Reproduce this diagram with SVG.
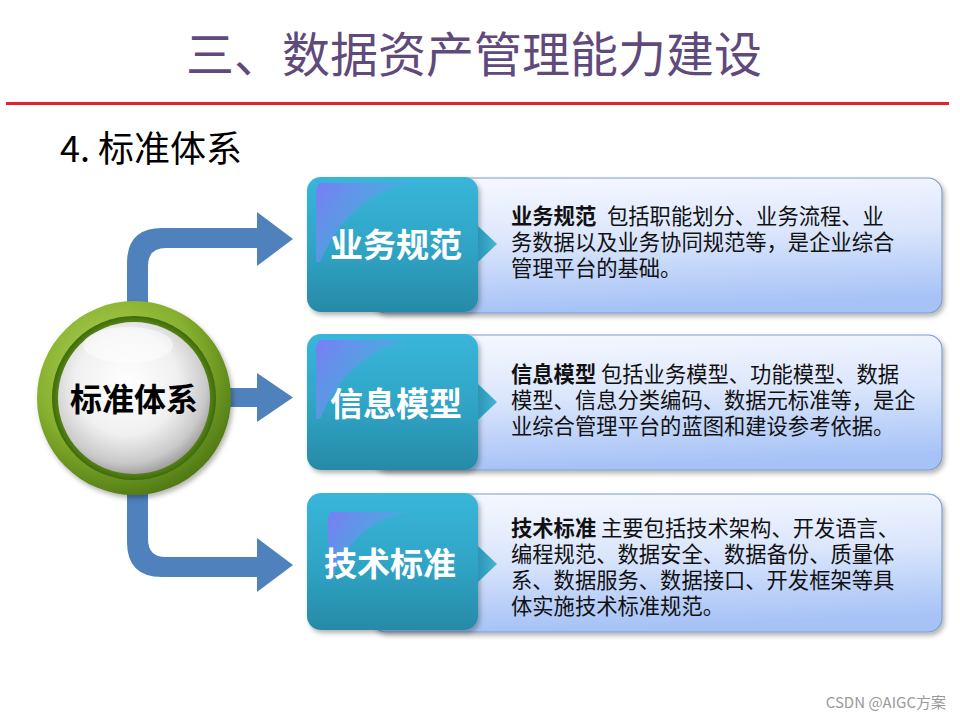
<svg xmlns="http://www.w3.org/2000/svg" width="960" height="720" viewBox="0 0 960 720">
<style>
.cjk{font-family:"Noto Sans CJK SC","Liberation Sans",sans-serif}
.desc{font-size:21.3px;fill:#111}
.b{font-weight:bold}
.lbl{font-size:33px;font-weight:bold;fill:#fff}
.lightbox{fill:url(#gLight);stroke:#7f9dcb;stroke-width:1.2}
.teal{fill:url(#gTeal)}
.swoosh{fill:url(#gSwoosh)}
.arr{fill:#4f81bd}
</style>
<defs>
<linearGradient id="gLight" x1="0" y1="0" x2="0.15" y2="1">
<stop offset="0" stop-color="#f7f9ff"/>
<stop offset="0.5" stop-color="#dbe6fc"/>
<stop offset="1" stop-color="#a7c3f6"/>
</linearGradient>
<linearGradient id="gTeal" x1="0" y1="0" x2="0" y2="1">
<stop offset="0" stop-color="#38b6da"/>
<stop offset="0.55" stop-color="#2fa3c4"/>
<stop offset="1" stop-color="#278aa6"/>
</linearGradient>
<linearGradient id="gSwoosh" x1="0" y1="0" x2="1" y2="0.6">
<stop offset="0" stop-color="#7b7cf6"/>
<stop offset="0.6" stop-color="#5b9fe6" stop-opacity="0.7"/>
<stop offset="1" stop-color="#3ab4da" stop-opacity="0"/>
</linearGradient>
<linearGradient id="gTri" x1="0" y1="0" x2="1" y2="0">
<stop offset="0" stop-color="#2b95b4"/>
<stop offset="1" stop-color="#45b7d6"/>
</linearGradient>
<radialGradient id="gRing" cx="0.4" cy="0.35" r="0.7">
<stop offset="0" stop-color="#b4d65a"/>
<stop offset="0.6" stop-color="#86b02e"/>
<stop offset="1" stop-color="#4b7412"/>
</radialGradient>
<radialGradient id="gRingIn" cx="0.5" cy="0.5" r="0.5">
<stop offset="0.85" stop-color="#6f9a1e"/>
<stop offset="1" stop-color="#3e6a0c"/>
</radialGradient>
<radialGradient id="gBall" cx="0.45" cy="0.4" r="0.62">
<stop offset="0" stop-color="#ffffff"/>
<stop offset="0.55" stop-color="#f0f0f0"/>
<stop offset="0.85" stop-color="#c9c9c9"/>
<stop offset="1" stop-color="#9a9a9a"/>
</radialGradient>
<filter id="sh" x="-10%" y="-10%" width="125%" height="130%">
<feDropShadow dx="2" dy="3" stdDeviation="2.5" flood-color="#000" flood-opacity="0.3"/>
</filter>
</defs>
<rect width="960" height="720" fill="#fff"/>
<text class="cjk" x="474" y="72" font-size="48" fill="#604a7b" text-anchor="middle">三、数据资产管理能力建设</text>
<rect x="6" y="102" width="943" height="3" fill="#e3202b"/>
<text class="cjk" x="60" y="162" font-size="36" fill="#000">4. 标准体系</text>

<g id="connectors">
<path class="arr" d="M127,310 L127,263 Q127,228 162,228 L257,228 L257,212 L293,239 L257,266 L257,248 L166,248 Q148,248 148,266 L148,310 Z"/>
<path class="arr" d="M222,388 L257,388 L257,373 L293,397.5 L257,422 L257,407 L222,407 Z"/>
<path class="arr" d="M127,488 L127,542 Q127,577 162,577 L257,577 L257,592 L293,565 L257,538 L257,557 L166,557 Q148,557 148,539 L148,488 Z"/>
</g>

<g id="center">
<circle cx="134" cy="398" r="97" fill="url(#gRing)" filter="url(#sh)"/>
<circle cx="134" cy="398" r="82" fill="url(#gRingIn)"/>
<circle cx="134" cy="398" r="76" fill="url(#gBall)"/>
<ellipse cx="128" cy="345" rx="45" ry="18" fill="#fff" opacity="0.5"/>
<text class="cjk" x="134" y="411" font-size="32" font-weight="bold" fill="#000" text-anchor="middle">标准体系</text>
</g>

<g id="n1">
<rect class="lightbox" x="372" y="178" width="570" height="135" rx="14" filter="url(#sh)"/>
<rect class="teal" x="307" y="177" width="171" height="135" rx="14" filter="url(#sh)"/>
<path class="swoosh" d="M319,183 L410,183 Q348,196 320,262 L316,262 L316,190 Z"/>
<polygon points="478,226 497,244 478,262" fill="url(#gTri)"/>
<text class="cjk lbl" x="396" y="257" text-anchor="middle">业务规范</text>
<text class="cjk desc b" x="511" y="224">业务规范</text>
<text class="cjk desc" x="607" y="224">包括职能划分、业务流程、业</text>
<text class="cjk desc" x="511" y="250">务数据以及业务协同规范等，是企业综合</text>
<text class="cjk desc" x="511" y="276">管理平台的基础。</text>
</g>

<g id="n2">
<rect class="lightbox" x="372" y="335" width="570" height="135" rx="14" filter="url(#sh)"/>
<rect class="teal" x="307" y="334" width="171" height="136" rx="14" filter="url(#sh)"/>
<path class="swoosh" d="M319,340 L410,340 Q348,353 320,419 L316,419 L316,347 Z"/>
<polygon points="478,384 497,402 478,420" fill="url(#gTri)"/>
<text class="cjk lbl" x="396" y="416" text-anchor="middle">信息模型</text>
<text class="cjk desc b" x="511" y="382">信息模型</text>
<text class="cjk desc" x="601" y="382">包括业务模型、功能模型、数据</text>
<text class="cjk desc" x="511" y="408">模型、信息分类编码、数据元标准等，是企</text>
<text class="cjk desc" x="511" y="434">业综合管理平台的蓝图和建设参考依据。</text>
</g>

<g id="n3">
<rect class="lightbox" x="372" y="494" width="570" height="138" rx="14" filter="url(#sh)"/>
<rect class="teal" x="307" y="493" width="171" height="137" rx="14" filter="url(#sh)"/>
<path class="swoosh" d="M331,512 L410,512 Q352,522 332,580 L328,580 L328,518 Z"/>
<polygon points="478,546 497,564 478,582" fill="url(#gTri)"/>
<text class="cjk lbl" x="390" y="576" text-anchor="middle">技术标准</text>
<text class="cjk desc b" x="511" y="536">技术标准</text>
<text class="cjk desc" x="601" y="536">主要包括技术架构、开发语言、</text>
<text class="cjk desc" x="511" y="562">编程规范、数据安全、数据备份、质量体</text>
<text class="cjk desc" x="511" y="588">系、数据服务、数据接口、开发框架等具</text>
<text class="cjk desc" x="511" y="614">体实施技术标准规范。</text>
</g>

<text class="cjk" x="946" y="708" font-size="15" fill="#9a9a9a" text-anchor="end">CSDN @AIGC方案</text>
</svg>
